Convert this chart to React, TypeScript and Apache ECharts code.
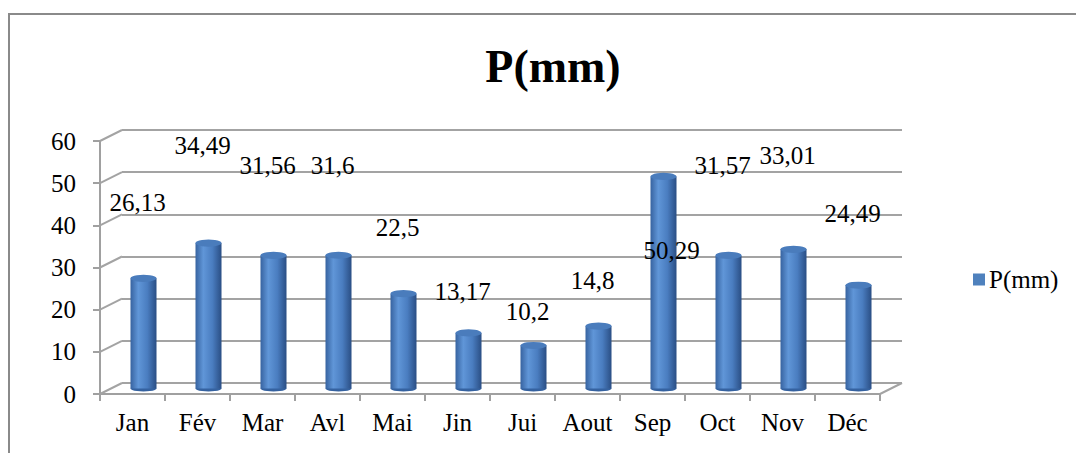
import React, { useEffect, useRef } from "react";
import * as echarts from "echarts";

const categories = ["Jan", "Fév", "Mar", "Avl", "Mai", "Jin", "Jui", "Aout", "Sep", "Oct", "Nov", "Déc"];
const values = [26.13, 34.49, 31.56, 31.6, 22.5, 13.17, 10.2, 14.8, 50.29, 31.57, 33.01, 24.49];
const valueLabels = ["26,13", "34,49", "31,56", "31,6", "22,5", "13,17", "10,2", "14,8", "50,29", "31,57", "33,01", "24,49"];
const yTicks = [0, 10, 20, 30, 40, 50, 60];
const seriesName = "P(mm)";
const titleText = "P(mm)";

const FONT = "Liberation Serif";

// layout (3D-look: front plane, middle plane for bars, back wall)
const FRONT = { left: 100, top: 141, width: 780, height: 253 };
const DX = 22;
const DY = -11;

export default function App() {
  const ref = useRef<HTMLDivElement>(null);

  useEffect(() => {
    if (!ref.current) return;
    const chart = echarts.init(ref.current, null, { renderer: "svg" });

    const mkGrid = (f: number) => ({
      left: FRONT.left + DX * f,
      top: FRONT.top + DY * f,
      width: FRONT.width,
      height: FRONT.height,
      containLabel: false,
    });

    const barGradient = new echarts.graphic.LinearGradient(0, 0, 1, 0, [
      { offset: 0, color: "#3763a0" },
      { offset: 0.3, color: "#6096d8" },
      { offset: 0.65, color: "#4a7dc0" },
      { offset: 1, color: "#2a4e84" },
    ]);

    const yMin = 0, yMax = 60, yInt = 10;

    const labelFor = (v: number, i: number) => {
      if (v > 45) {
        return {
          show: true,
          position: "insideTop",
          distance: 62,
          offset: [8, 0],
          formatter: valueLabels[i],
        };
      }
      return {
        show: true,
        position: "top",
        distance: 2.63 * v - 5.5,
        offset: [-6, 0],
        formatter: valueLabels[i],
      };
    };

    const option: any = {
      animation: false,
      backgroundColor: "#ffffff",
      textStyle: { fontFamily: FONT },
      title: {
        text: titleText,
        left: 548,
        textAlign: "center",
        top: 38,
        textStyle: { fontFamily: FONT, fontSize: 46, fontWeight: "bold", color: "#000" },
      },
      legend: {
        data: [{ name: seriesName, itemStyle: { color: "#4f81bd" } }],
        left: 968,
        top: 262,
        icon: "rect",
        itemWidth: 12,
        itemHeight: 12,
        itemGap: 6,
        textStyle: { fontFamily: FONT, fontSize: 25, color: "#000", padding: [0, 0, 0, -1] },
      },
      grid: [mkGrid(0), mkGrid(1), mkGrid(0.5)],
      xAxis: [
        {
          type: "category",
          gridIndex: 0,
          data: categories,
          axisLine: { show: true, lineStyle: { color: "#a0a0a0", width: 2 } },
          axisTick: { show: true, length: 7, lineStyle: { color: "#a0a0a0", width: 2 } },
          axisLabel: { fontFamily: FONT, fontSize: 25, color: "#000", margin: 16, interval: 0 },
          splitLine: { show: false },
        },
        {
          type: "category",
          gridIndex: 1,
          data: categories,
          show: false,
        },
        {
          type: "category",
          gridIndex: 2,
          data: categories,
          show: false,
        },
      ],
      yAxis: [
        {
          type: "value",
          gridIndex: 0,
          min: yMin,
          max: yMax,
          interval: yInt,
          axisLine: { show: true, lineStyle: { color: "#a0a0a0", width: 2 } },
          axisTick: { show: true, length: 7, lineStyle: { color: "#a0a0a0", width: 2 } },
          axisLabel: { fontFamily: FONT, fontSize: 25, color: "#000", margin: 24 },
          splitLine: { show: false },
        },
        {
          type: "value",
          gridIndex: 1,
          min: yMin,
          max: yMax,
          interval: yInt,
          axisLine: { show: false },
          axisTick: { show: false },
          axisLabel: { show: false },
          splitLine: { show: true, lineStyle: { color: "#a3a3a3", width: 2 } },
        },
        {
          type: "value",
          gridIndex: 2,
          min: yMin,
          max: yMax,
          interval: yInt,
          show: false,
          splitLine: { show: false },
        },
      ],
      series: [
        {
          name: seriesName,
          type: "bar",
          xAxisIndex: 2,
          yAxisIndex: 2,
          barWidth: 26,
          itemStyle: { color: barGradient },
          label: { fontFamily: FONT, fontSize: 25, color: "#000" },
          data: values.map((v, i) => ({ value: v, label: labelFor(v, i) })),
          z: 3,
        },
        {
          name: "top",
          type: "pictorialBar",
          xAxisIndex: 2,
          yAxisIndex: 2,
          symbol: "circle",
          symbolSize: [26, 7],
          symbolPosition: "end",
          symbolOffset: [0, "-50%"],
          itemStyle: { color: "#4a7cbc" },
          data: values,
          z: 4,
          silent: true,
        },
        {
          name: "bottom",
          type: "pictorialBar",
          xAxisIndex: 2,
          yAxisIndex: 2,
          symbol: "circle",
          symbolSize: [26, 6],
          symbolPosition: "start",
          symbolOffset: [0, "50%"],
          itemStyle: { color: "#3562a0" },
          data: values,
          z: 2,
          silent: true,
        },
      ],
    };

    chart.setOption(option);

    // perspective connector lines (front axis -> back wall)
    const lines: any[] = [];
    const xLeftF = FRONT.left;
    const xLeftB = FRONT.left + DX;
    yTicks.forEach((t) => {
      const yf = chart.convertToPixel({ yAxisIndex: 0 } as any, t) as any as number;
      const yb = chart.convertToPixel({ yAxisIndex: 1 } as any, t) as any as number;
      lines.push({
        type: "line",
        shape: { x1: xLeftF, y1: yf, x2: xLeftB, y2: yb },
        style: { stroke: "#a3a3a3", lineWidth: 2 },
        z: 1,
      });
    });
    const y0f = chart.convertToPixel({ yAxisIndex: 0 } as any, 0) as any as number;
    const y0b = chart.convertToPixel({ yAxisIndex: 1 } as any, 0) as any as number;
    lines.push({
      type: "line",
      shape: { x1: FRONT.left + FRONT.width, y1: y0f, x2: FRONT.left + FRONT.width + DX, y2: y0b },
      style: { stroke: "#a3a3a3", lineWidth: 2 },
      z: 1,
    });
    lines.push({
      type: "rect",
      shape: { x: 9, y: 14, width: 1200, height: 600 },
      style: { fill: "none", stroke: "#8a8a8a", lineWidth: 2 },
      z: 0,
      silent: true,
    });

    chart.setOption({ graphic: lines });

    return () => chart.dispose();
  }, []);

  return (
    <div
      ref={ref}
      style={{ position: "fixed", left: 0, top: 0, width: 1076, height: 453, background: "#fff" }}
    />
  );
}
